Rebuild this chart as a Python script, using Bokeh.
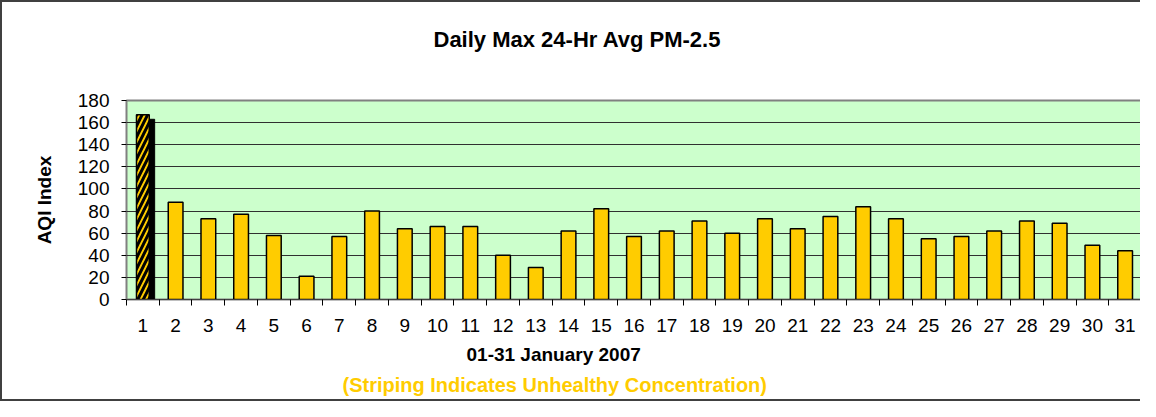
from bokeh.plotting import figure
from bokeh.models import Range1d, FixedTicker, Title, ColumnDataSource
from bokeh.transform import dodge
from bokeh.embed import file_html
from bokeh.resources import INLINE

# ---- data ----
days = list(range(1, 32))
aqi = [167, 88, 73, 77, 58, 21, 57, 80, 64, 66, 66, 40, 29, 62, 82,
       57, 62, 71, 60, 73, 64, 75, 84, 73, 55, 57, 62, 71, 69, 49, 44]
unhealthy_days = [1]
unhealthy_aqi = [167]
unhealthy_shadow = [163]
y_ticks = [0, 20, 40, 60, 80, 100, 120, 140, 160, 180]
day_labels = {d: str(d) for d in days}

title_text = "Daily Max 24-Hr Avg PM-2.5"
x_title = "01-31 January 2007"
y_title = "AQI Index"
note_text = "(Striping Indicates Unhealthy Concentration)"

FONT = "Liberation Sans"

normal_days = [d for d in days if d not in unhealthy_days]
normal_aqi = [a for d, a in zip(days, aqi) if d not in unhealthy_days]

p = figure(width=1140, height=401, output_backend="svg", toolbar_location=None,
           title=None,
           x_range=Range1d(0.5, 31.5), y_range=Range1d(0, 180),
           min_border_left=124, min_border_right=1, min_border_top=98, min_border_bottom=104)
p.background_fill_color = "#CCFFCC"
p.border_fill_color = "white"
p.outline_line_color = "#808080"
p.outline_line_width = 2

# titles (first added sits closest to the frame)
p.add_layout(Title(text=" ", standoff=21, text_font=FONT, text_font_size="22px"), "above")
p.add_layout(Title(text=title_text, align="left", offset=307, standoff=2,
                   text_font=FONT, text_font_style="bold", text_font_size="22px",
                   text_color="black"), "above")
p.add_layout(Title(text=x_title, align="left", offset=340, standoff=14,
                   text_font=FONT, text_font_style="bold", text_font_size="19px",
                   text_color="black"), "below")
p.add_layout(Title(text=note_text, align="left", offset=216, standoff=0,
                   text_font=FONT, text_font_style="bold", text_font_size="20px",
                   text_color="#FFCC00"), "below")

# bars
src_n = ColumnDataSource(dict(x=normal_days, top=normal_aqi))
p.vbar(x="x", top="top", width=0.45, source=src_n, fill_color="#FFCC00",
       line_color="black", line_width=1.5)

src_u = ColumnDataSource(dict(x=unhealthy_days, top=unhealthy_aqi, shadow=unhealthy_shadow))
p.vbar(x=dodge("x", 0.23, range=p.x_range), top="shadow", width=0.26, source=src_u,
       fill_color="black", line_color="black")
p.vbar(x="x", top="top", width=0.39, source=src_u, fill_color="#FFCC00",
       line_color="black", line_width=1.5, hatch_pattern="/", hatch_color="black",
       hatch_weight=3, hatch_scale=11)

# axes
p.yaxis.ticker = FixedTicker(ticks=y_ticks)
p.yaxis.major_label_text_font = FONT
p.yaxis.major_label_text_font_size = "19px"
p.yaxis.major_label_text_color = "black"
p.yaxis.major_tick_out = 5
p.yaxis.major_tick_in = 0
p.yaxis.minor_tick_line_color = None
p.yaxis.major_label_standoff = 12
p.yaxis.axis_line_color = "#808080"
p.yaxis.major_tick_line_color = "black"
p.yaxis.axis_label = y_title
p.yaxis.axis_label_text_font = FONT
p.yaxis.axis_label_text_font_style = "bold"
p.yaxis.axis_label_text_font_size = "19px"
p.yaxis.axis_label_text_color = "black"
p.yaxis.axis_label_standoff = 20

p.xaxis.ticker = FixedTicker(ticks=days, minor_ticks=[d - 0.5 for d in days] + [days[-1] + 0.5])
p.xaxis.major_label_overrides = day_labels
p.xaxis.major_label_text_font = FONT
p.xaxis.major_label_text_font_size = "19px"
p.xaxis.major_label_text_color = "black"
p.xaxis.major_tick_line_color = None
p.xaxis.minor_tick_out = 6
p.xaxis.minor_tick_in = 0
p.xaxis.minor_tick_line_color = "black"
p.xaxis.major_label_standoff = 13
p.xaxis.axis_line_color = "#404040"

p.xgrid.grid_line_color = None
p.ygrid.grid_line_color = "#303030"
p.ygrid.grid_line_width = 1

p.styles = {"border-left": "2px solid #404040", "border-top": "2px solid #404040",
            "border-bottom": "2px solid #404040"}

open("out.html", "w").write(file_html(p, INLINE))
